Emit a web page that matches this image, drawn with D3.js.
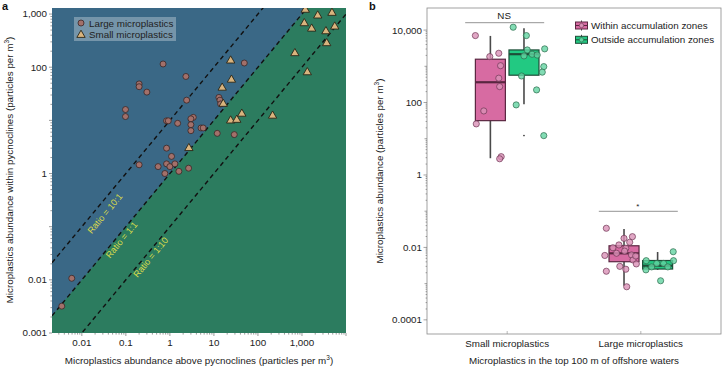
<!DOCTYPE html>
<html><head><meta charset="utf-8">
<script src="https://cdn.jsdelivr.net/npm/d3@7"></script>
<style>
body{margin:0;background:#fff;}
svg{display:block;font-family:"Liberation Sans",Arial,sans-serif;}
</style></head>
<body><svg id="c" width="722" height="366"></svg>
<script>
// ---------- Panel a data ----------
const largeAbove  = [0.70,2.31,0.20,0.20,0.30,2.4,0.098,0.098,0.84,0.92,1.5,3.4,3.0,3.0,3.0,5.1,5.7,13,13.7,14.2,11.9,29,49,0.84,1.09,0.20,0.54,0.84,1.0,1.30,0.77,1.6,2.66,0.0059,0.0035];
const largeWithin = [115,67,48.5,43,34,24,16,11.8,9.8,9.8,8.8,11.4,10.7,8.3,6.4,7.2,7.2,27,24,20.4,5.7,5.4,120,3.0,2.1,1.46,1.35,1.52,1.35,1.52,1.0,1.1,1.26,0.0107,0.0032];
const smallAbove  = [24,25,15.4,16.3,2.7,24,33,43,215,690,1320,1190,2280,4800,1130,1660,3500,5550,3640];
const smallWithin = [133,58,41,20.4,3.0,9.9,10.2,13.3,12.2,183,80,1200,935,1050,670,530,473,580,282];
const ratios = [10,1,0.1];
const ratioLabels = ["Ratio = 10:1","Ratio = 1:1","Ratio = 1:10"];
const ratioLabelAt = [0.0229,0.065,0.303];
const xTicksA = [0.01,0.1,1,10,100,1000];
const yTicksA = [1000,100,1,0.01,0.001];
const legendA = ["Large microplastics","Small microplastics"];

// ---------- Panel b data ----------
const categories = ["Small microplastics","Large microplastics"];
const groups = ["Within accumulation zones","Outside accumulation zones"];
// box stats: [lower whisker, Q1, median, Q3, upper whisker]
const boxSmallWithin  = [2.9,31.6,363,1570,6900];
const boxSmallOutside = [90,568,2160,2830,11300];
const boxLargeWithin  = [0.00087,0.00403,0.00687,0.0111,0.0323];
const boxLargeOutside = [0.0024,0.00253,0.00312,0.00435,0.00746];
const outlierSmallOutside = [12.2];
const ptsSmallWithin  = [7050,1850,2290,1040,470,275,58.6,25.7,3.2,2.8];
const jitSmallWithin  = [-0.5,-0.02,0.28,0.34,0.28,0.31,-0.22,-0.47,0.36,0.31];
const ptsSmallOutside = [12000,7050,2830,1940,2150,2050,3030,980,690,540,223,86,12.2];
const jitSmallOutside = [-0.36,0.08,0.11,0,0.27,0.44,0.69,0.66,0.61,-0.08,0.42,-0.26,0.66];
const ptsLargeWithin  = [0.0338,0.0178,0.0198,0.0098,0.0117,0.0095,0.0139,0.0069,0.0079,0.0062,0.0060,0.0045,0.0035,0.0030,0.0025,0.0022,0.00082,0.0058];
const jitLargeWithin  = [-0.59,0,0.28,-0.37,-0.17,0.06,0.19,-0.25,0.02,0.25,-0.64,0.3,0.41,-0.14,0.06,-0.59,0.09,0.39];
const ptsLargeOutside = [0.0043,0.0024,0.0036,0.0036,0.0029,0.0076,0.0043,0.0012,0.0029];
const jitLargeOutside = [-0.38,-0.39,-0.03,0.2,0.34,0.52,0.53,0.1,-0.2];
const yTicksB = [10000,100,1,0.01,0.0001];
const significance = ["NS","*"];

const svg = d3.select("#c");
const fmt = v => v>=1 ? d3.format(",")(v) : String(v);
const textCol = "#222";

// ================= PANEL A =================
const xA = d3.scaleLog().domain([0.0021,10000]).range([52,346]);
const yA = d3.scaleLog().domain([0.001,1300]).range([333,8]);
const gA = svg.append("g");
gA.append("clipPath").attr("id","clipA").append("rect")
  .attr("x",52).attr("y",8).attr("width",294).attr("height",325);
const plotA = gA.append("g").attr("clip-path","url(#clipA)");
const [xa0,xa1] = xA.domain(), [ya0,ya1] = yA.domain();
plotA.append("rect").attr("x",52).attr("y",8).attr("width",294).attr("height",325).attr("fill","#2c7c5f");
// blue region above 1:1
plotA.append("path").attr("fill","#3a6886")
  .attr("d", d3.line()([[xA(xa0),yA(ya1)],[xA(xa0),yA(xa0)],[xA(ya1),yA(ya1)]]) + "Z");
// ratio lines
ratios.forEach(r=>{
  plotA.append("line")
    .attr("x1",xA(xa0)).attr("y1",yA(r*xa0))
    .attr("x2",xA(xa1)).attr("y2",yA(r*xa1))
    .attr("stroke","#111").attr("stroke-width",1.4).attr("stroke-dasharray","4.5,3.5");
});
// ratio labels
const ang = Math.atan2(yA(10)-yA(1), xA(10)-xA(1));
const nx = -Math.sin(ang), ny = Math.cos(ang);
const offs = [9.3,5,4.7];
ratios.forEach((r,i)=>{
  const v = ratioLabelAt[i];
  const px = xA(v) + nx*offs[i]*-1, py = yA(r*v) + ny*offs[i]*-1;
  const cx = xA(v) - Math.sin(ang)*0 + Math.cos(Math.PI/2+ang)*0;
  // perpendicular pointing down-right
  const pdx = -Math.sin(ang), pdy = Math.cos(ang);
  const X = xA(v) + (pdx>0?pdx:-pdx)*offs[i], Y = yA(r*v) + (pdy>0?pdy:-pdy)*offs[i];
  plotA.append("text").attr("transform",`translate(${X},${Y}) rotate(${ang*180/Math.PI})`)
    .attr("text-anchor","middle").attr("dy","0.35em")
    .attr("font-size",9).attr("fill","#dcdc4a").text(ratioLabels[i]);
});
// points
const circleFill = "#a2706a", circleStroke = "#3a2626";
largeAbove.forEach((xv,i)=>{
  plotA.append("circle").attr("cx",xA(xv)).attr("cy",yA(largeWithin[i])).attr("r",3)
    .attr("fill",circleFill).attr("stroke",circleStroke).attr("stroke-width",0.8);
});
const tri = d3.symbol(d3.symbolTriangle).size(30);
smallAbove.forEach((xv,i)=>{
  plotA.append("path").attr("d",tri()).attr("transform",`translate(${xA(xv)},${yA(smallWithin[i])})`)
    .attr("fill","#d9b47e").attr("stroke","#2a2616").attr("stroke-width",0.9);
});
// legend
const lg = gA.append("g");
lg.append("rect").attr("x",74).attr("y",17).attr("width",102).attr("height",24)
  .attr("fill","#ffffff").attr("fill-opacity",0.3);
lg.append("circle").attr("cx",81).attr("cy",23).attr("r",3).attr("fill",circleFill).attr("stroke",circleStroke).attr("stroke-width",0.8);
lg.append("path").attr("d",tri()).attr("transform","translate(81,35)").attr("fill","#d9b47e").attr("stroke","#2a2616").attr("stroke-width",0.9);
legendA.forEach((t,i)=>{
  lg.append("text").attr("x",89).attr("y",26.5+i*11.5).attr("font-size",9.8).attr("fill","#222").text(t);
});
// axes A
function minorTicks(dom){
  const out=[]; const lo=Math.floor(Math.log10(dom[0])), hi=Math.ceil(Math.log10(dom[1]));
  for(let e=lo;e<=hi;e++) for(let m=1;m<10;m++){const v=m*Math.pow(10,e); if(v>=dom[0]&&v<=dom[1]) out.push(v);}
  return out;
}
const axA = gA.append("g");
minorTicks(yA.domain()).forEach(v=>{
  const major = Math.abs(Math.log10(v)-Math.round(Math.log10(v)))<1e-9;
  axA.append("line").attr("x1",52).attr("x2",52-(major?3:1.6)).attr("y1",yA(v)).attr("y2",yA(v)).attr("stroke","#555").attr("stroke-width",0.6);
});
minorTicks(xA.domain()).forEach(v=>{
  const major = Math.abs(Math.log10(v)-Math.round(Math.log10(v)))<1e-9;
  axA.append("line").attr("y1",333).attr("y2",333+(major?3:1.6)).attr("x1",xA(v)).attr("x2",xA(v)).attr("stroke","#555").attr("stroke-width",0.6);
});
yTicksA.forEach(v=>{
  axA.append("text").attr("x",47).attr("y",yA(v)).attr("dy","0.35em").attr("text-anchor","end")
    .attr("font-size",9.8).attr("fill",textCol).text(fmt(v));
});
xTicksA.forEach(v=>{
  axA.append("text").attr("x",xA(v)).attr("y",346).attr("text-anchor","middle")
    .attr("font-size",9.8).attr("fill",textCol).text(fmt(v));
});
const tA = axA.append("text").attr("x",199).attr("y",364).attr("text-anchor","middle").attr("font-size",9.8).attr("fill",textCol);
tA.append("tspan").text("Microplastics abundance above pycnoclines (particles per m");
tA.append("tspan").attr("dy",-4).attr("font-size",6.5).text("3");
tA.append("tspan").attr("dy",4).text(")");
const tAy = axA.append("text").attr("transform","translate(13,170) rotate(-90)").attr("text-anchor","middle").attr("font-size",9.8).attr("fill",textCol);
tAy.append("tspan").text("Microplastics abundance within pycnoclines (particles per m");
tAy.append("tspan").attr("dy",-4).attr("font-size",6.5).text("3");
tAy.append("tspan").attr("dy",4).text(")");
svg.append("text").attr("x",2).attr("y",10).attr("font-size",11).attr("font-weight","bold").attr("fill","#111").text("a");

// ================= PANEL B =================
const xB = d3.scalePoint().domain(categories).range([427,721]).padding(0.6);
const yB = d3.scaleLog().domain([0.0000407,40700]).range([334,8]);
const gB = svg.append("g");
const bw = 30, dodge = 16.8;
const colors = {fill:["#d76ba2","#22c982"], stroke:["#5a2640","#1e4d38"], pt:["#d991b6","#63d3a1"], ptS:["#6e3553","#2c6a4c"]};
gB.append("rect").attr("x",427).attr("y",8).attr("width",294).attr("height",326).attr("fill","none").attr("stroke","#8a8a8a").attr("stroke-width",0.8);

function drawBox(cat,gi,st,pts,jit,outl){
  const cx = xB(cat) + (gi===0?-dodge:dodge);
  const g = gB.append("g");
  g.append("line").attr("x1",cx).attr("x2",cx).attr("y1",yB(st[0])).attr("y2",yB(st[4])).attr("stroke","#4a4a4a").attr("stroke-width",1.6);
  g.append("rect").attr("x",cx-bw/2).attr("y",yB(st[3])).attr("width",bw).attr("height",yB(st[1])-yB(st[3]))
    .attr("fill",colors.fill[gi]).attr("stroke",colors.stroke[gi]).attr("stroke-width",1.2);
  g.append("line").attr("x1",cx-bw/2).attr("x2",cx+bw/2).attr("y1",yB(st[2])).attr("y2",yB(st[2])).attr("stroke",colors.stroke[gi]).attr("stroke-width",2.2);
  (outl||[]).forEach(v=>g.append("circle").attr("cx",cx).attr("cy",yB(v)).attr("r",0.8).attr("fill","#222"));
  pts.forEach((v,i)=>{
    g.append("circle").attr("cx",cx+jit[i]*bw).attr("cy",yB(v)).attr("r",3.1)
      .attr("fill",colors.pt[gi]).attr("fill-opacity",0.8).attr("stroke",colors.ptS[gi]).attr("stroke-width",0.7);
  });
}
drawBox(categories[0],0,boxSmallWithin,ptsSmallWithin,jitSmallWithin);
drawBox(categories[0],1,boxSmallOutside,ptsSmallOutside,jitSmallOutside,outlierSmallOutside);
drawBox(categories[1],0,boxLargeWithin,ptsLargeWithin,jitLargeWithin);
drawBox(categories[1],1,boxLargeOutside,ptsLargeOutside,jitLargeOutside);

// significance
[[categories[0],22.7,significance[0],15],[categories[1],211.3,significance[1],206]].forEach(([c,y,t,ty])=>{
  gB.append("line").attr("x1",xB(c)-42).attr("x2",xB(c)+37).attr("y1",y).attr("y2",y).attr("stroke","#888").attr("stroke-width",0.9);
  gB.append("text").attr("x",xB(c)-3).attr("y",ty+(t==="*"?3:3.5)).attr("text-anchor","middle").attr("font-size",t==="*"?8:9.8).attr("fill",textCol).text(t);
});

// axes B
const axB = gB.append("g");
minorTicks([0.0001,10000]).forEach(v=>{
  const e = Math.log10(v), major = Math.abs(e-Math.round(e))<1e-9;
  const labeled = major && Math.round(e)%2===0;
  axB.append("line").attr("x1",427).attr("x2",427-(labeled?3.5:(major?2.5:1.4))).attr("y1",yB(v)).attr("y2",yB(v)).attr("stroke","#666").attr("stroke-width",0.6);
});
yTicksB.forEach(v=>{
  axB.append("text").attr("x",422).attr("y",yB(v)).attr("dy","0.35em").attr("text-anchor","end")
    .attr("font-size",9.8).attr("fill",textCol).text(fmt(v));
});
categories.forEach(c=>{
  axB.append("line").attr("x1",xB(c)).attr("x2",xB(c)).attr("y1",334).attr("y2",331).attr("stroke","#888").attr("stroke-width",0.6);
  axB.append("text").attr("x",xB(c)).attr("y",347).attr("text-anchor","middle").attr("font-size",9.8).attr("fill",textCol).text(c);
});
axB.append("text").attr("x",574).attr("y",364).attr("text-anchor","middle").attr("font-size",9.8).attr("fill",textCol)
  .text("Microplastics in the top 100 m of offshore waters");
const tBy = axB.append("text").attr("transform","translate(383,171) rotate(-90)").attr("text-anchor","middle").attr("font-size",9.8).attr("fill",textCol);
tBy.append("tspan").text("Microplastics abundance (particles per m");
tBy.append("tspan").attr("dy",-4).attr("font-size",6.5).text("3");
tBy.append("tspan").attr("dy",4).text(")");
svg.append("text").attr("x",369).attr("y",10).attr("font-size",11).attr("font-weight","bold").attr("fill","#111").text("b");

// legend B
groups.forEach((t,i)=>{
  const y = 25.5 + i*14.3;
  const g = gB.append("g");
  g.append("line").attr("x1",581.5).attr("x2",581.5).attr("y1",y-5).attr("y2",y+5).attr("stroke","#444").attr("stroke-width",1);
  g.append("rect").attr("x",575.5).attr("y",y-3.5).attr("width",12).attr("height",7).attr("fill",colors.fill[i]).attr("stroke",colors.stroke[i]).attr("stroke-width",1);
  g.append("line").attr("x1",575.5).attr("x2",587.5).attr("y1",y).attr("y2",y).attr("stroke",colors.stroke[i]).attr("stroke-width",1);
  g.append("circle").attr("cx",581.5).attr("cy",y).attr("r",2.2).attr("fill",colors.pt[i]).attr("stroke",colors.ptS[i]).attr("stroke-width",0.6);
  g.append("text").attr("x",591).attr("y",y+3.5).attr("font-size",9.8).attr("fill",textCol).text(t);
});
</script></body></html>
